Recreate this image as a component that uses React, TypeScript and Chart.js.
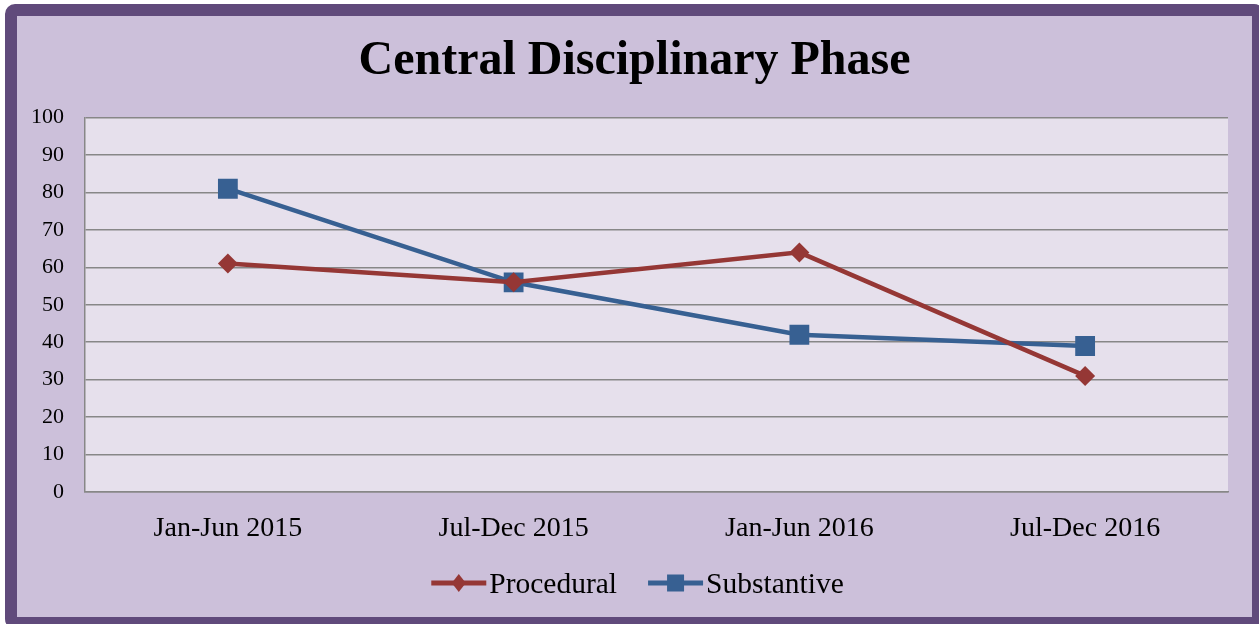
import React, { useEffect, useRef } from "react";
import { Chart, registerables } from "chart.js";

Chart.register(...registerables);

const titleText = "Central Disciplinary Phase";
const categories = ["Jan-Jun 2015", "Jul-Dec 2015", "Jan-Jun 2016", "Jul-Dec 2016"];
const procedural = [61, 56, 64, 31];
const substantive = [81, 56, 42, 39];
const yMin = 0;
const yMax = 100;
const yStep = 10;

const SERIF = "'Liberation Serif', 'Times New Roman', serif";
const RED = "#953735";
const BLUE = "#376092";
const GRID = "#878787";

const plotBg = {
  id: "plotBg",
  beforeDraw(chart: any) {
    const { ctx, chartArea } = chart;
    ctx.save();
    ctx.fillStyle = "#e6e0ec";
    ctx.fillRect(chartArea.left, chartArea.top, chartArea.right - chartArea.left, chartArea.bottom - chartArea.top);
    ctx.restore();
  },
};

function drawMarker(ctx: CanvasRenderingContext2D, style: string, x: number, y: number, color: string) {
  ctx.fillStyle = color;
  ctx.beginPath();
  if (style === "rectRot") {
    ctx.moveTo(x, y - 9);
    ctx.lineTo(x + 7, y);
    ctx.lineTo(x, y + 9);
    ctx.lineTo(x - 7, y);
    ctx.closePath();
  } else {
    ctx.rect(x - 8.5, y - 8.5, 17, 17);
  }
  ctx.fill();
}

const customLegend = {
  id: "customLegend",
  afterDraw(chart: any) {
    const { ctx } = chart;
    const ds = chart.data.datasets;
    ctx.save();
    ctx.font = `29.5px ${SERIF}`;
    const lineLen = 55;
    const textGap = 3;
    const itemGap = 31;
    const widths = ds.map((d: any) => lineLen + textGap + ctx.measureText(d.label).width);
    const total = widths.reduce((a: number, b: number) => a + b, 0) + itemGap * (ds.length - 1);
    let x = chart.width / 2 - total / 2 + 3;
    const cy = 567;
    ds.forEach((d: any, i: number) => {
      ctx.strokeStyle = d.borderColor;
      ctx.lineWidth = 5;
      ctx.beginPath();
      ctx.moveTo(x, cy);
      ctx.lineTo(x + lineLen, cy);
      ctx.stroke();
      drawMarker(ctx, d.pointStyle, x + lineLen / 2, cy, d.borderColor);
      ctx.fillStyle = "#000";
      ctx.textBaseline = "alphabetic";
      ctx.textAlign = "left";
      ctx.fillText(d.label, x + lineLen + textGap, cy + 9.5);
      x += widths[i] + itemGap;
    });
    ctx.restore();
  },
};

export default function App() {
  const ref = useRef<HTMLCanvasElement>(null);
  useEffect(() => {
    if (!ref.current) return;
    const chart = new Chart(ref.current, {
      type: "line",
      data: {
        labels: categories,
        datasets: [
          {
            label: "Procedural",
            data: procedural,
            borderColor: RED,
            backgroundColor: RED,
            borderWidth: 4.5,
            pointStyle: "rectRot",
            pointRadius: 10,
            pointHoverRadius: 10,
            pointBorderWidth: 0,
            tension: 0,
          },
          {
            label: "Substantive",
            data: substantive,
            borderColor: BLUE,
            backgroundColor: BLUE,
            borderWidth: 4.5,
            pointStyle: "rect",
            pointRadius: 14,
            pointHoverRadius: 14,
            pointBorderWidth: 0,
            tension: 0,
          },
        ],
      },
      options: {
        responsive: false,
        animation: false,
        layout: { padding: { top: 0, right: 0, bottom: 65, left: 0 } },
        plugins: {
          legend: { display: false },
          tooltip: { enabled: false },
          title: {
            display: true,
            text: titleText,
            color: "#000",
            font: { family: SERIF, size: 48, weight: "bold", lineHeight: 1.2 },
            padding: { top: 17, bottom: 27 },
          },
        },
        scales: {
          x: {
            offset: true,
            grid: { display: false, drawTicks: false },
            border: { display: true, color: GRID, width: 1.5 },
            ticks: { color: "#000", font: { family: SERIF, size: 28 }, padding: 20, maxRotation: 0 },
            afterFit(scale: any) {
              scale.height = 60;
            },
          },
          y: {
            min: yMin,
            max: yMax,
            grid: { color: GRID, lineWidth: 1.5, drawTicks: false },
            border: { display: true, color: GRID, width: 1.5 },
            ticks: { stepSize: yStep, color: "#000", font: { family: SERIF, size: 22 }, padding: 21 },
            afterFit(scale: any) {
              scale.width = 68;
            },
          },
          yRight: {
            position: "right",
            min: yMin,
            max: yMax,
            grid: { display: false, drawTicks: false },
            border: { display: false },
            ticks: { display: false },
            afterFit(scale: any) {
              scale.width = 24;
            },
          },
        },
      },
      plugins: [plotBg, customLegend],
    });
    return () => chart.destroy();
  }, []);

  return (
    <div style={{ position: "fixed", left: 0, top: 0, width: 1259, height: 624, overflow: "hidden", background: "#fff" }}>
      <div
        style={{
          position: "absolute",
          left: 5,
          top: 4,
          width: 1259,
          height: 625,
          boxSizing: "border-box",
          border: "12px solid #604a7b",
          borderRadius: 10,
          background: "#ccc0da",
        }}
      >
        <canvas ref={ref} width={1235} height={601} style={{ display: "block" }} />
      </div>
    </div>
  );
}
